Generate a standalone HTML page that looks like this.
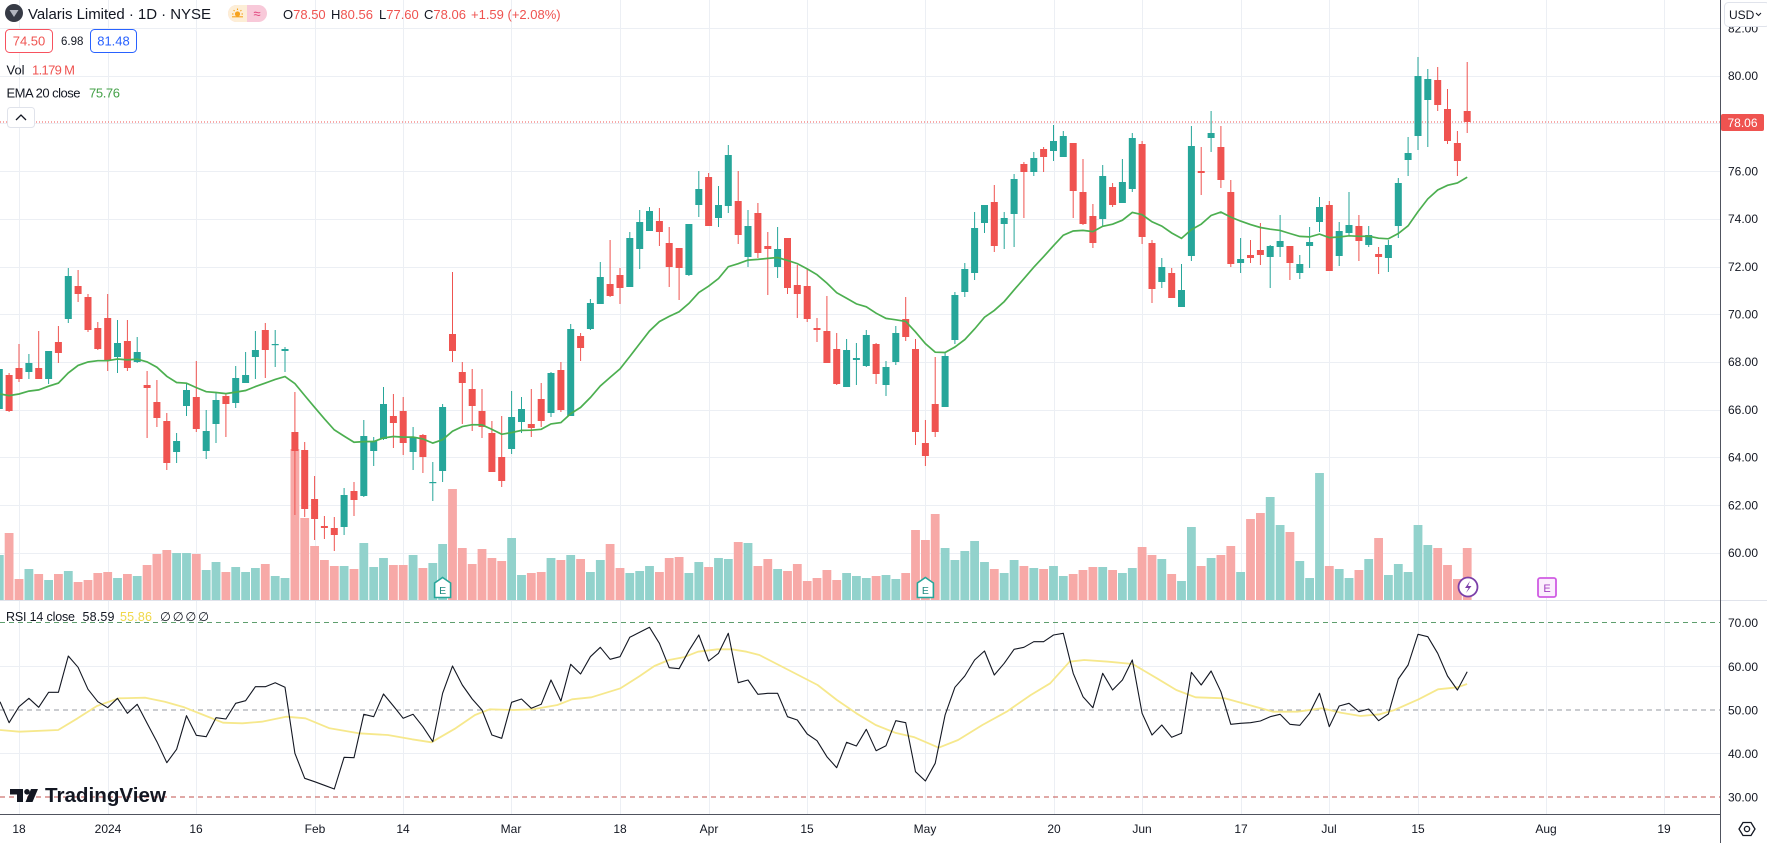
<!DOCTYPE html>
<html><head><meta charset="utf-8">
<style>
html,body{margin:0;padding:0;background:#fff;width:1767px;height:843px;overflow:hidden;}
svg{display:block;font-family:"Liberation Sans",Arial,"DejaVu Sans",sans-serif;}
</style></head><body>
<svg id="c" width="1767" height="843" viewBox="0 0 1767 843" xmlns="http://www.w3.org/2000/svg">
<g id="grid" stroke="#eceff4" stroke-width="1"></g>
<g id="vol"></g>
<line x1="0" y1="122" x2="1720" y2="122" stroke="#ef5350" stroke-width="1" stroke-dasharray="1,2"/>
<g id="cdl"></g>
<polyline id="ema" fill="none" stroke="#4caf50" stroke-width="1.7"/>
<!-- RSI bands -->
<line x1="0" y1="622.5" x2="1720" y2="622.5" stroke="#5e9e6e" stroke-dasharray="5,4"/>
<line x1="0" y1="710" x2="1720" y2="710" stroke="#9598a1" stroke-dasharray="5,4"/>
<line x1="0" y1="797" x2="1720" y2="797" stroke="#c0504d" stroke-dasharray="5,4"/>
<polyline id="rsima" fill="none" stroke="#f6e88c" stroke-width="1.8" stroke-linejoin="round"/>
<polyline id="rsi" fill="none" stroke="#131722" stroke-width="1.1" stroke-linejoin="round"/>
<!-- pane separator and axes -->
<line x1="0" y1="600.5" x2="1767" y2="600.5" stroke="#e0e3eb"/>
<line x1="1720.5" y1="0" x2="1720.5" y2="843" stroke="#50535e"/>
<line x1="0" y1="814.5" x2="1720" y2="814.5" stroke="#50535e"/>
<rect x="1721" y="815" width="46" height="28" fill="#fff"/>
<!-- markers -->
<g id="mk"></g>
<!-- price axis labels -->
<g font-size="12" fill="#131722">
<text x="1728" y="32.5">82.00</text>
<text x="1728" y="80">80.00</text>
<text x="1728" y="175.5">76.00</text>
<text x="1728" y="223">74.00</text>
<text x="1728" y="271">72.00</text>
<text x="1728" y="318.5">70.00</text>
<text x="1728" y="366">68.00</text>
<text x="1728" y="414">66.00</text>
<text x="1728" y="461.5">64.00</text>
<text x="1728" y="509.5">62.00</text>
<text x="1728" y="557">60.00</text>
<text x="1728" y="627">70.00</text>
<text x="1728" y="671">60.00</text>
<text x="1728" y="714.5">50.00</text>
<text x="1728" y="758">40.00</text>
<text x="1728" y="801.5">30.00</text>
</g>
<rect x="1721" y="114" width="43" height="17" rx="2" fill="#ef5350"/>
<text x="1742.5" y="127" font-size="12" fill="#fff" text-anchor="middle">78.06</text>
<rect x="1724.5" y="2.5" width="45" height="24" rx="4" fill="#fff" stroke="#e0e3eb"/>
<text x="1729" y="19" font-size="12" fill="#131722">USD</text>
<path d="M1756 13 L1758.5 15.5 L1761 13" fill="none" stroke="#131722" stroke-width="1"/>
<!-- time axis labels -->
<g font-size="12" fill="#131722" text-anchor="middle">
<text x="19" y="833">18</text>
<text x="108" y="833">2024</text>
<text x="196" y="833">16</text>
<text x="315" y="833">Feb</text>
<text x="403" y="833">14</text>
<text x="511" y="833">Mar</text>
<text x="620" y="833">18</text>
<text x="709" y="833">Apr</text>
<text x="807" y="833">15</text>
<text x="925" y="833">May</text>
<text x="1054" y="833">20</text>
<text x="1142" y="833">Jun</text>
<text x="1241" y="833">17</text>
<text x="1329" y="833">Jul</text>
<text x="1418" y="833">15</text>
<text x="1546" y="833">Aug</text>
<text x="1664" y="833">19</text>
</g>
<!-- gear -->
<path d="M1743 822.5 L1751 822.5 L1755 829 L1751 835.5 L1743 835.5 L1739 829 Z" fill="none" stroke="#131722" stroke-width="1.3"/>
<circle cx="1747" cy="829" r="2.6" fill="none" stroke="#131722" stroke-width="1.3"/>
<!-- header -->
<circle cx="14" cy="13" r="9" fill="#363a45"/>
<path d="M9.5 10 L18.5 10 L14 17 Z" fill="#b2b5be"/>
<text x="28" y="19" font-size="15" fill="#131722" textLength="183">Valaris Limited · 1D · NYSE</text>
<rect x="228" y="5" width="39" height="17" rx="8.5" fill="#f8c9d9"/>
<path d="M236.5 5 L247 5 L247 22 L236.5 22 A8.5 8.5 0 0 1 236.5 5 Z" fill="#fdeed6"/>
<circle cx="237.5" cy="14" r="2.6" fill="#f6a21e"/>
<g stroke="#f6a21e" stroke-width="1.1"><line x1="237.5" y1="8.5" x2="237.5" y2="10"/><line x1="232" y1="14" x2="233.5" y2="14"/><line x1="241.5" y1="14" x2="243" y2="14"/><line x1="233.6" y1="10.1" x2="234.6" y2="11.1"/><line x1="241.4" y1="10.1" x2="240.4" y2="11.1"/><line x1="232" y1="16.8" x2="243" y2="16.8"/></g>
<text x="257" y="18" font-size="13" fill="#e0407a" text-anchor="middle">≈</text>
<g font-size="13">
<text x="283" y="19"><tspan fill="#131722">O</tspan><tspan fill="#ef5350">78.50</tspan></text>
<text x="331" y="19"><tspan fill="#131722">H</tspan><tspan fill="#ef5350">80.56</tspan></text>
<text x="379" y="19"><tspan fill="#131722">L</tspan><tspan fill="#ef5350">77.60</tspan></text>
<text x="424" y="19"><tspan fill="#131722">C</tspan><tspan fill="#ef5350">78.06</tspan></text>
<text x="471" y="19" fill="#ef5350">+1.59 (+2.08%)</text>
</g>
<rect x="5.5" y="29.5" width="47" height="23" rx="4" fill="#fff" stroke="#f7525f"/>
<text x="29" y="45.5" font-size="13" fill="#ef5350" text-anchor="middle">74.50</text>
<text x="61" y="45" font-size="11.5" fill="#131722">6.98</text>
<rect x="90.5" y="29.5" width="46" height="23" rx="4" fill="#fff" stroke="#2962ff"/>
<text x="113.5" y="45.5" font-size="13" fill="#2962ff" text-anchor="middle">81.48</text>
<text x="6.5" y="74.5" font-size="13" fill="#131722">Vol</text>
<text x="32" y="74.5" font-size="13" fill="#ef5350" textLength="43">1.179 M</text>
<text x="6.5" y="97.5" font-size="13" fill="#131722" textLength="74">EMA 20 close</text>
<text x="89" y="97.5" font-size="13" fill="#43a047" textLength="31">75.76</text>
<rect x="7.5" y="107.5" width="27" height="20" rx="3" fill="#fff" stroke="#e0e3eb"/>
<path d="M16 120 L21 115 L26 120" fill="none" stroke="#131722" stroke-width="1.3"/>
<!-- RSI legend -->
<text x="6" y="621" font-size="12.5" fill="#131722" textLength="69">RSI 14 close</text>
<text x="82.5" y="621" font-size="12.5" fill="#131722" textLength="32">58.59</text>
<text x="120" y="621" font-size="12.5" fill="#f0d84a" textLength="32">55.86</text>
<text x="160" y="621" font-size="12.5" fill="#131722" textLength="49">∅ ∅ ∅ ∅</text>
<!-- TradingView logo -->
<g fill="#131722">
<path d="M10 789 L23 789 L23 802 L17 802 L17 794.5 L10 794.5 Z"/>
<circle cx="27" cy="791.8" r="2.8"/>
<path d="M31 789 L38 789 L32.5 802 L25.5 802 Z"/>
<text x="45" y="802" font-size="20" font-weight="bold" textLength="121" lengthAdjust="spacingAndGlyphs">TradingView</text>
</g>
</svg>
<script>
(function(){
var D=[
[1,369,409,345,410,555],[0,375,411,373,412,533],[0,368,379,344,382,579],[1,363,372,354,379,569],[0,368,379,331,379,574],
[1,351,379,351,384,580],[0,342,353,326,363,574],[1,276,319,268,323,571],[0,286,294,270,302,582],[0,297,330,294,332,580],
[0,328,349,322,350,573],[0,318,360,294,371,572],[1,343,357,320,373,578],[0,341,368,320,371,574],[1,352,362,337,363,576],
[0,385,388,371,438,565],[0,402,418,380,427,554],[0,421,463,413,470,550],[1,441,452,433,463,553],[1,390,406,383,416,553],
[0,397,429,361,432,554],[1,431,451,410,459,570],[1,400,424,392,443,562],[0,396,404,393,437,572],[1,378,403,366,408,567],
[1,375,383,352,383,572],[1,350,357,331,379,568],[0,330,350,323,378,564],[1,344,345,330,367,576],[1,349,351,347,372,578],
[0,432,451,392,515,449],[0,450,509,442,517,518],[0,499,519,476,540,546],[0,526,528,516,539,560],[0,528,535,517,551,566],
[1,495,527,488,535,566],[0,491,500,482,516,569],[1,436,496,420,497,543],[1,441,451,437,466,567],[1,404,439,387,440,558],
[0,416,423,394,448,565],[0,411,443,397,455,565],[1,437,452,427,470,555],[0,435,457,434,473,568],[1,482,483,462,501,563],
[1,407,471,404,482,544],[0,334,351,272,362,489],[0,372,383,362,424,548],[0,389,406,369,431,564],[0,411,427,389,438,549],
[0,433,472,421,472,558],[0,457,481,416,487,561],[1,417,449,391,454,538],[1,409,422,397,433,575],[0,424,428,389,437,573],
[0,399,421,383,427,572],[1,373,413,372,417,558],[0,370,410,362,412,560],[1,329,416,324,416,555],[0,336,348,333,361,559],
[1,303,329,299,330,572],[1,277,304,262,304,560],[0,284,296,240,297,544],[0,275,288,268,304,568],[1,238,287,232,287,573],
[1,222,249,210,269,571],[1,211,231,207,231,566],[0,221,232,208,246,572],[0,243,267,227,287,558],[0,248,268,248,300,557],
[1,224,275,224,276,573],[1,189,205,171,217,562],[0,177,226,173,226,567],[1,205,218,186,227,558],[1,155,206,145,213,559],
[0,201,235,171,244,542],[1,226,257,210,267,543],[0,213,253,203,258,566],[0,246,249,232,295,559],[1,249,267,227,278,569],
[0,238,288,238,294,571],[0,285,294,265,318,564],[0,286,319,269,322,581],[0,328,330,318,342,578],[0,331,363,296,363,570],
[0,349,384,333,385,580],[1,350,387,339,387,573],[1,358,360,343,385,576],[1,335,366,330,367,578],[0,344,374,343,384,576],
[1,367,385,361,396,575],[1,333,362,326,365,579],[0,319,337,297,341,573],[0,349,432,339,445,530],[0,443,456,420,466,540],
[0,404,432,357,437,514],[1,356,407,352,407,548],[1,295,340,292,344,560],[1,269,292,263,297,551],[1,228,273,212,280,541],
[1,205,223,205,233,562],[0,202,246,185,252,569],[1,218,224,212,249,573],[1,179,214,174,247,560],[0,164,172,162,218,566],
[1,158,172,152,176,568],[0,149,157,147,172,569],[1,141,151,125,161,566],[1,136,157,131,157,576],[0,143,191,143,218,574],
[0,192,224,159,225,570],[0,216,243,204,248,567],[1,176,219,165,227,567],[0,187,205,183,207,570],[1,182,203,159,203,573],
[1,138,189,133,192,568],[0,144,237,141,244,547],[0,243,289,240,303,555],[1,267,282,258,288,559],[0,273,298,268,298,574],
[1,290,307,264,307,581],[1,146,256,126,261,527],[0,171,173,147,195,566],[1,133,138,111,152,558],[0,147,180,126,188,555],
[0,192,264,180,267,546],[1,259,263,238,273,572],[0,255,258,240,263,519],[0,250,255,223,265,513],[1,246,257,245,288,497],
[1,241,247,215,257,525],[0,246,263,246,280,532],[1,264,273,255,279,561],[1,242,246,227,268,578],[1,207,222,197,232,473],
[0,205,271,201,271,566],[1,231,256,222,266,569],[1,225,233,192,235,578],[0,226,241,215,261,570],[1,235,245,226,247,559],
[0,254,257,247,274,538],[1,245,258,240,272,575],[1,183,226,178,238,564],[1,153,160,137,176,572],[1,76,136,57,150,525],
[1,79,100,69,147,545],[0,80,105,67,111,548],[0,109,141,89,144,565],[0,143,161,131,176,579],[0,111,122,62,133,548]
];
var R=[305,368,320,295,322,277,277,168,202,268,305,323,295,340,313,370,425,488,448,347,406,410,353,357,310,302,260,260,248,262,
460,535,545,556,567,472,473,343,350,282,318,355,343,380,425,280,198,255,297,330,405,415,307,297,325,313,240,303,193,222,
170,142,178,170,112,97,82,130,203,206,152,105,183,160,100,248,240,283,
280,280,350,360,402,422,470,503,427,438,388,452,437,362,368,515,543,490,345,262,228,180,153,225,190,148,142,125,125,105,100,
220,290,323,220,270,240,180,340,405,375,412,400,217,255,213,275,373,370,368,363,350,343,373,376,340,280,380,318,310,335,327,
362,342,237,195,103,110,160,228,270,215];
var MA1=[[0,390],[40,395],[120,390],[160,355],[200,318],[245,295],[300,293],[340,305],[380,322],[420,345],[460,368],[500,370],[540,365],[590,350],[630,355],[680,385],[740,400],[800,405],[850,418],[890,427],[940,385],[980,345],[1010,328],[1060,330],[1100,328],[1150,315],[1180,298],[1220,292],[1280,265],[1320,228],[1350,198],[1380,180],[1410,172],[1440,155],[1480,148],[1510,148],[1540,155]];
var MA2=[[40,165],[80,195],[120,225],[160,255],[200,300],[240,340],[280,375],[320,398],[360,412],[410,443],[450,420],[500,375],[550,335],[600,285],[640,250],[680,185],[710,180],[760,185],[810,192],[860,235],[900,270],[940,292],[1000,295],[1050,315],[1100,335],[1150,335],[1200,325],[1240,338],[1280,348],[1320,343],[1350,330],[1400,298],[1440,268],[1480,262],[1500,252]];
function X(i){return 19+i*9.852;}
var g="",v="",c="",m="";
var vx=[19,108,196,315,403,511,620,709,807,925,1054,1142,1241,1329,1418,1546,1664];
vx.forEach(function(x){g+='<line x1="'+(x+0.5)+'" y1="0" x2="'+(x+0.5)+'" y2="814"/>';});
for(var p=82;p>=60;p-=2){var y=Math.round(75.7+(80-p)*23.85)+0.5;g+='<line x1="0" y1="'+y+'" x2="1720" y2="'+y+'"/>';}
g+='<line x1="0" y1="666.5" x2="1720" y2="666.5"/><line x1="0" y1="753.5" x2="1720" y2="753.5"/>';
document.getElementById('grid').innerHTML=g;
var ema=394,ep=[];
D.forEach(function(d,k){
  var i=k-2,x=X(i);
  var vc=d[0]?'#92d2cc':'#f7a9a7';
  v+='<rect x="'+(x-4.4).toFixed(1)+'" y="'+d[5]+'" width="8.8" height="'+(600-d[5])+'" fill="'+vc+'"/>';
  var cc=d[0]?'#26a69a':'#ef5350';
  c+='<rect x="'+(x-0.5).toFixed(1)+'" y="'+d[3]+'" width="1" height="'+(d[4]-d[3])+'" fill="'+cc+'"/>';
  var h=Math.max(1.2,d[2]-d[1]);
  c+='<rect x="'+(x-3.5).toFixed(1)+'" y="'+d[1]+'" width="7" height="'+h+'" fill="'+cc+'"/>';
  var cl=d[0]?d[1]:d[2];
  if(k>0)ema=ema+(2/21)*(cl-ema);
  ep.push(Math.max(0,x).toFixed(1)+','+ema.toFixed(1));
});
document.getElementById('vol').innerHTML=v;
document.getElementById('cdl').innerHTML=c;
document.getElementById('ema').setAttribute('points',ep.join(' '));
var rp=[];R.forEach(function(y,k){rp.push(Math.max(0,X(k-2)).toFixed(1)+','+(600+y/3).toFixed(1));});
document.getElementById('rsi').setAttribute('points',rp.join(' '));
var mp=[];MA1.forEach(function(a){mp.push((a[0]/2.063).toFixed(1)+','+(600+a[1]/3).toFixed(1));});
MA2.forEach(function(a){mp.push((740+a[0]/2.063).toFixed(1)+','+(600+a[1]/3).toFixed(1));});
document.getElementById('rsima').setAttribute('points',mp.join(' '));
[442.6,925.4].forEach(function(x){
  m+='<path d="M'+x+' 577.5 L'+(x+8)+' 583 L'+(x+8)+' 597.5 L'+(x-8)+' 597.5 L'+(x-8)+' 583 Z" fill="#fff" stroke="#26a69a" stroke-width="1.6"/>';
  m+='<text x="'+x+'" y="594" font-size="10.5" fill="#1f8a80" text-anchor="middle">E</text>';
});
m+='<circle cx="1468" cy="587" r="9.5" fill="#fff" stroke="#7b3fa8" stroke-width="1.8"/>';
m+='<path d="M1470 581 L1465 588 L1468.5 588 L1466 593 L1471.5 586 L1468 586 Z" fill="#7b3fa8"/>';
m+='<rect x="1538" y="578" width="18" height="19" rx="2" fill="#fbeefd" stroke="#d05ce3" stroke-width="1.8"/>';
m+='<text x="1547" y="592" font-size="11" fill="#a33fc0" text-anchor="middle">E</text>';
document.getElementById('mk').innerHTML=m;
})();
</script>
</body></html>
